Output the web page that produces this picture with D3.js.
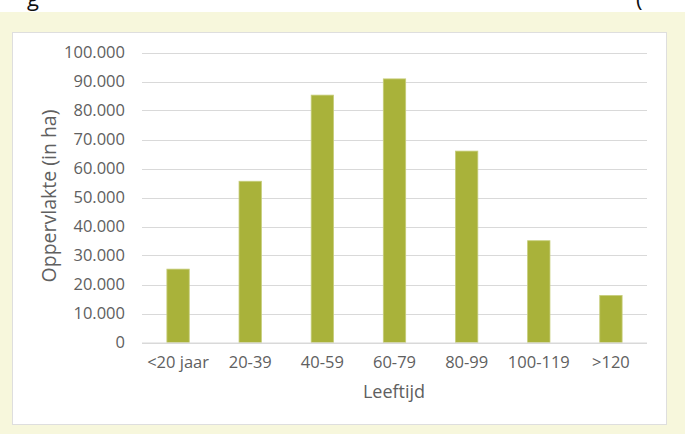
<!DOCTYPE html>
<html>
<head>
<meta charset="utf-8">
<script src="https://cdn.jsdelivr.net/npm/d3@7"></script>
<style>
  html, body { margin: 0; padding: 0; background: #ffffff; }
  svg { display: block; }
  text { font-family: "Open Sans", "Segoe UI", sans-serif; }
</style>
</head>
<body>
<svg id="chart" width="685" height="434"></svg>
<script>
const categories = ["<20 jaar", "20-39", "40-59", "60-79", "80-99", "100-119", ">120"];
const values = [25300, 55600, 85300, 90900, 66000, 35100, 16200];
const yTicks = [0, 10000, 20000, 30000, 40000, 50000, 60000, 70000, 80000, 90000, 100000];
const yTitle = "Oppervlakte (in ha)";
const xTitle = "Leeftijd";

const svg = d3.select("#chart");
const W = 685, H = 434;

// cream backdrop with white strip at top (cut-off title above)
svg.append("rect").attr("x", 0).attr("y", 0).attr("width", W).attr("height", H).attr("fill", "#ffffff");
svg.append("rect").attr("x", 0).attr("y", 12).attr("width", W).attr("height", H - 12).attr("fill", "#f7f7dc");
// fragments of the cropped heading above
svg.append("clipPath").attr("id", "topclip").append("rect").attr("x", 0).attr("y", 0).attr("width", W).attr("height", 12);
const frag = svg.append("g").attr("clip-path", "url(#topclip)");
frag.append("text").attr("x", 27).attr("y", 6).attr("font-size", 22).attr("fill", "#111").text("g");
frag.append("text").attr("x", 636).attr("y", 7).attr("font-size", 22).attr("fill", "#111").text("(");

// white chart panel
svg.append("rect").attr("x", 12.5).attr("y", 32.5).attr("width", 654).attr("height", 392)
  .attr("fill", "#ffffff").attr("stroke", "#dedede").attr("stroke-width", 1);

const plot = { left: 142, right: 647, top: 52.5, bottom: 342.5 };

const x = d3.scaleBand().domain(categories).range([plot.left, plot.right]).paddingInner(0.69).paddingOuter(0.345);
const y = d3.scaleLinear().domain([0, 100000]).range([plot.bottom, plot.top]);

const fmt = v => d3.format(",")(v).replace(/,/g, ".");

// gridlines
svg.append("g")
  .selectAll("line").data(yTicks).join("line")
  .attr("x1", plot.left).attr("x2", plot.right)
  .attr("y1", d => Math.round(y(d)) + 0.5).attr("y2", d => Math.round(y(d)) + 0.5)
  .attr("stroke", "#d9d9d9").attr("stroke-width", 1.2);

// y axis labels via d3 axis
const yAxis = svg.append("g").attr("transform", `translate(${plot.left},0)`)
  .call(d3.axisLeft(y).tickValues(yTicks).tickFormat(fmt).tickSize(0).tickPadding(17));
yAxis.select(".domain").remove();
yAxis.selectAll("text").attr("font-size", 16.5).attr("fill", "#606060")
  .attr("font-family", "\"Open Sans\", sans-serif");

// bars
svg.append("g").selectAll("rect").data(values).join("rect")
  .attr("x", (d, i) => x(categories[i]))
  .attr("y", d => y(d))
  .attr("width", x.bandwidth())
  .attr("height", d => y(0) - y(d))
  .attr("fill", "#a9b23a")
  .attr("stroke", "#c6cd7a").attr("stroke-width", 0.8);

// x axis
const xAxis = svg.append("g").attr("transform", `translate(0,${plot.bottom})`)
  .call(d3.axisBottom(x).tickSize(0).tickPadding(14));
xAxis.select(".domain").remove();
xAxis.selectAll("text").attr("font-size", 16.5).attr("fill", "#606060")
  .attr("font-family", "\"Open Sans\", sans-serif");
svg.append("line").attr("x1", plot.left).attr("x2", plot.right)
  .attr("y1", plot.bottom + 0.5).attr("y2", plot.bottom + 0.5)
  .attr("stroke", "#d9d9d9").attr("stroke-width", 1.2);

// axis titles
svg.append("text").attr("x", 394).attr("y", 398)
  .attr("text-anchor", "middle").attr("font-size", 18).attr("fill", "#606060").text(xTitle);
svg.append("text").attr("transform", "translate(56,196) rotate(-90)")
  .attr("text-anchor", "middle").attr("font-size", 19.5).attr("fill", "#606060").text(yTitle);
</script>
</body>
</html>
